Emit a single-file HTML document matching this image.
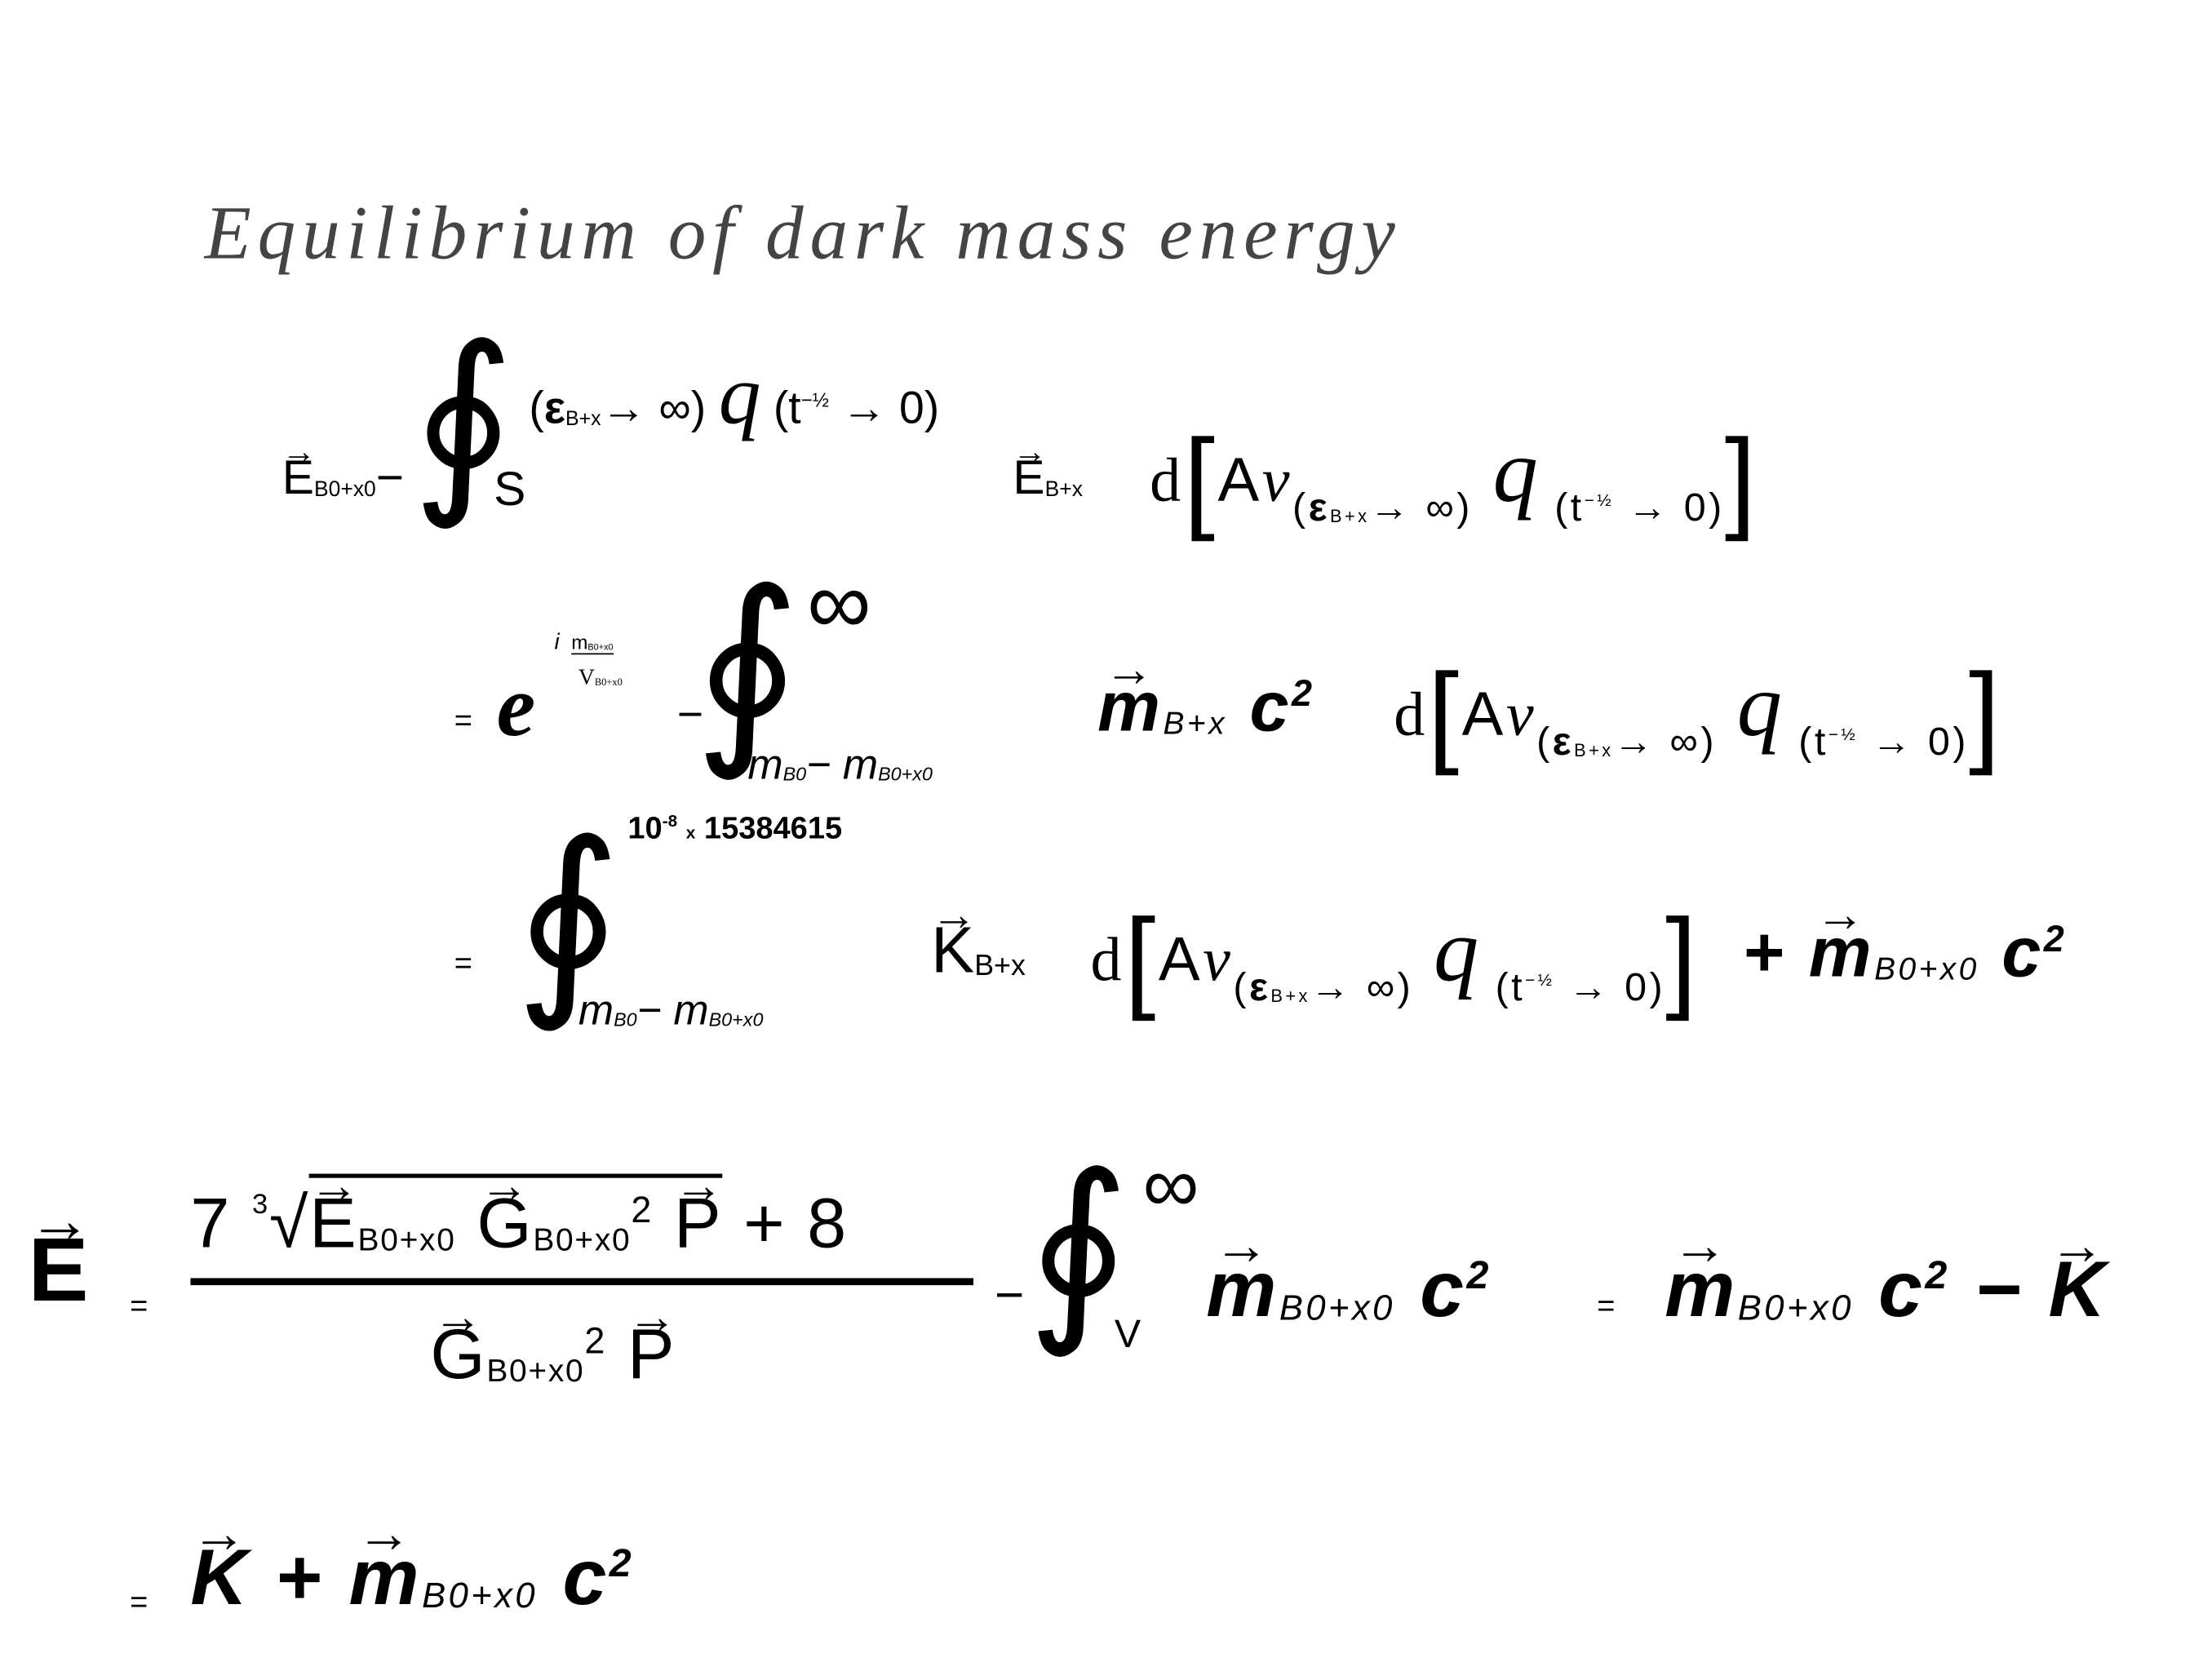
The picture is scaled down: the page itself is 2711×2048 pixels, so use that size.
<!DOCTYPE html>
<html><head><meta charset="utf-8"><style>
html,body{margin:0;padding:0;background:#fff;}
#root{position:relative;width:1568px;height:1184px;transform:scale(1.729);transform-origin:0 0;font-family:"Liberation Sans",sans-serif;color:#000;}
#root div{position:absolute;white-space:nowrap;line-height:1;}
.t{font-family:"Liberation Serif",serif;}
.sub{font-size:0.45em;vertical-align:-0.1em;}
.int{font-family:"DejaVu Sans",serif;}
.v{position:relative;display:inline-block;}
.v:before{content:"→";position:absolute;left:0;right:0;top:-0.55em;font-size:0.7em;text-align:center;}
.br{font-size:44px;letter-spacing:2px}
</style></head><body><div id="root">
<div style="left:145px;top:138px;font-size:54px;color:#444;font-style:italic;font-family:'Liberation Serif',serif;letter-spacing:4.5px">Equilibrium of dark mass energy</div>

<!-- line 1 -->
<div style="left:200px;top:322px;font-size:34px"><span class="v">E</span><span class="sub">B0+x0</span>−</div>
<div class="int" style="left:292px;top:228px;font-size:140px;font-style:italic">∮</div>
<div style="left:350px;top:330px;font-size:34px">S</div>
<div style="left:375px;top:250px;font-size:32px">(<b>ε</b><span class="sub">B+x</span>→ ∞) <span class="t" style="font-style:italic;font-size:60px">q</span> (t<sup style="font-size:14px">−½</sup> → 0)</div>
<div style="left:718px;top:322px;font-size:34px"><span class="v">E</span><span class="sub">B+x</span></div>
<div class="br" style="left:815px;top:300px"><span class="t">d</span><span style="font-size:80px;vertical-align:-12px">[</span>A<span class="t" style="font-style:italic">ν</span><span style="font-size:28px;vertical-align:-14px">(<b>ε</b><span class="sub">B+x</span>→ ∞)</span> <span class="t" style="font-style:italic;font-size:64px">q</span><span style="font-size:28px;vertical-align:-14px"> (t<sup style="font-size:12px">−½</sup> → 0)</span><span style="font-size:80px;vertical-align:-12px">]</span></div>

<!-- line 2 -->
<div style="left:322px;top:500px;font-size:22px">=</div>
<div style="left:352px;top:470px;font-size:62px;font-style:italic;font-weight:bold" class="t">e</div>
<div style="left:393px;top:448px;font-size:16px"><i>i</i></div>
<div style="left:405px;top:448px;font-size:14px;text-align:center;border-bottom:1px solid #000">m<span class="sub">B0+x0</span></div>
<div style="left:410px;top:473px;font-size:16px" class="t">V<span class="sub">B0+x0</span></div>
<div style="left:480px;top:490px;font-size:32px">−</div>
<div class="int" style="left:492px;top:400px;font-size:145px;font-style:italic">∮</div>
<div style="left:572px;top:395px;font-size:64px">∞</div>
<div style="left:530px;top:528px;font-size:30px;font-style:italic">m<span class="sub">B0</span>− m<span class="sub">B0+x0</span></div>
<div style="left:778px;top:476px;font-size:50px;font-style:italic;font-weight:bold;letter-spacing:2px"><span class="v">m</span><span class="sub" style="font-weight:normal">B+x</span> c<sup style="font-size:26px">2</sup></div>
<div class="br" style="left:988px;top:466px"><span class="t">d</span><span style="font-size:80px;vertical-align:-12px">[</span>A<span class="t" style="font-style:italic">ν</span><span style="font-size:28px;vertical-align:-14px">(<b>ε</b><span class="sub">B+x</span>→ ∞)</span> <span class="t" style="font-style:italic;font-size:64px">q</span><span style="font-size:28px;vertical-align:-14px"> (t<sup style="font-size:12px">−½</sup> → 0)</span><span style="font-size:80px;vertical-align:-12px">]</span></div>

<!-- line 3 -->
<div style="left:322px;top:672px;font-size:22px">=</div>
<div class="int" style="left:365px;top:578px;font-size:145px;font-style:italic">∮</div>
<div style="left:445px;top:576px;font-size:22px;font-weight:bold">10<sup style="font-size:12px">-8</sup> <span style="font-size:12px">x</span> 15384615</div>
<div style="left:410px;top:702px;font-size:30px;font-style:italic">m<span class="sub">B0</span>− m<span class="sub">B0+x0</span></div>
<div style="left:660px;top:650px;font-size:46px"><span class="v">K</span><span class="sub">B+x</span></div>
<div class="br" style="left:773px;top:640px"><span class="t">d</span><span style="font-size:80px;vertical-align:-12px">[</span>A<span class="t" style="font-style:italic">ν</span><span style="font-size:28px;vertical-align:-14px">(<b>ε</b><span class="sub">B+x</span>→ ∞)</span> <span class="t" style="font-style:italic;font-size:64px">q</span><span style="font-size:28px;vertical-align:-14px"> (t<sup style="font-size:12px">−½</sup> → 0)</span><span style="font-size:80px;vertical-align:-12px">]</span></div>
<div style="left:1235px;top:650px;font-size:50px;font-style:italic;font-weight:bold;letter-spacing:2px">+ <span class="v">m</span><span class="sub" style="font-weight:normal">B0+x0</span> c<sup style="font-size:26px">2</sup></div>

<!-- line 4 -->
<div style="left:20px;top:868px;font-size:64px;font-weight:bold"><span class="v">E</span></div>
<div style="left:92px;top:915px;font-size:22px">=</div>
<div style="left:135px;top:842px;font-size:50px;letter-spacing:1px">7 <span style="font-size:20px;vertical-align:24px">3</span>√<span style="border-top:3px solid #000;padding-top:4px"><span class="v">E</span><span class="sub">B0+x0</span> <span class="v">G</span><span class="sub">B0+x0</span><sup style="font-size:26px">2</sup> <span class="v">P</span></span> + 8</div>
<div style="left:135px;top:906px;width:555px;height:5px;background:#000"></div>
<div style="left:305px;top:935px;font-size:50px;letter-spacing:1px"><span class="v">G</span><span class="sub">B0+x0</span><sup style="font-size:26px">2</sup> <span class="v">P</span></div>
<div style="left:705px;top:900px;font-size:36px">−</div>
<div class="int" style="left:728px;top:815px;font-size:140px;font-style:italic">∮</div>
<div style="left:810px;top:812px;font-size:56px">∞</div>
<div style="left:790px;top:932px;font-size:28px">V</div>
<div style="left:855px;top:886px;font-size:56px;font-style:italic;font-weight:bold;letter-spacing:2px"><span class="v">m</span><span class="sub" style="font-weight:normal">B0+x0</span> c<sup style="font-size:28px">2</sup></div>
<div style="left:1132px;top:915px;font-size:22px">=</div>
<div style="left:1180px;top:886px;font-size:56px;font-style:italic;font-weight:bold;letter-spacing:2px"><span class="v">m</span><span class="sub" style="font-weight:normal">B0+x0</span> c<sup style="font-size:28px">2</sup> − <span class="v">K</span></div>

<!-- line 5 -->
<div style="left:92px;top:1125px;font-size:22px">=</div>
<div style="left:135px;top:1090px;font-size:56px;font-style:italic;font-weight:bold;letter-spacing:2px"><span class="v">K</span> + <span class="v">m</span><span class="sub" style="font-weight:normal">B0+x0</span> c<sup style="font-size:28px">2</sup></div>
</div></body></html>
